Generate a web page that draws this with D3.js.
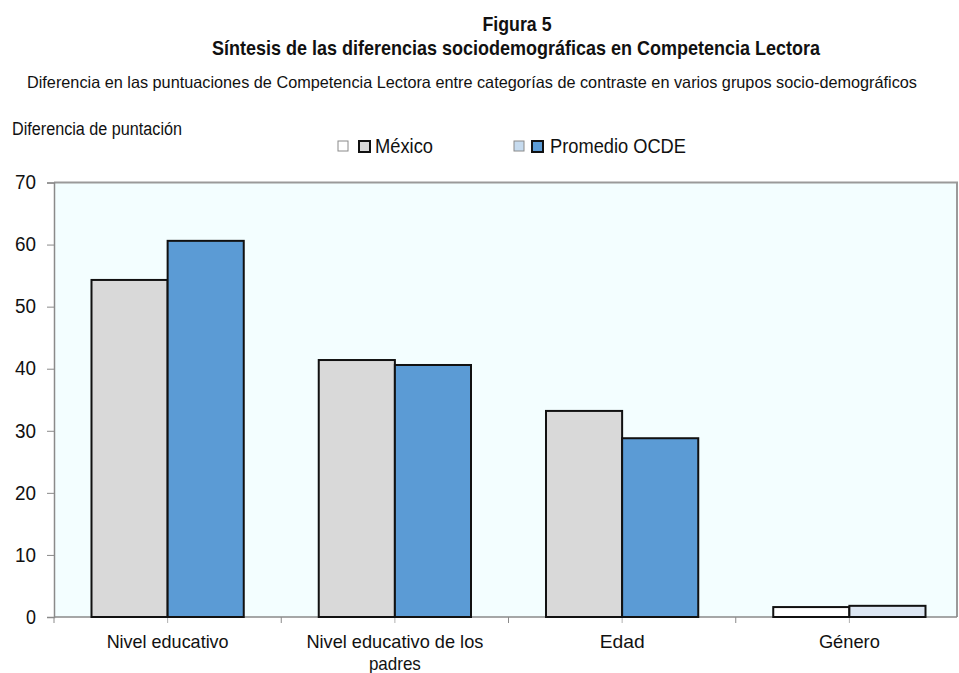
<!DOCTYPE html>
<html>
<head>
<meta charset="utf-8">
<script src="https://cdn.jsdelivr.net/npm/d3@7"></script>
<style>
  html, body { margin: 0; padding: 0; background: #ffffff; }
  svg { display: block; }
  text { font-family: "Liberation Sans Narrow", "Arial Narrow", "Liberation Sans", Arial, sans-serif; fill: #111; }
</style>
</head>
<body>
<svg id="chart" width="959" height="673"></svg>
<script>
// Score differences between contrast categories, by socio-demographic group
const categories = ["Nivel educativo", "Nivel educativo de los padres", "Edad", "Género"];
const categoryLines = [["Nivel educativo"], ["Nivel educativo de los", "padres"], ["Edad"], ["Género"]];
const seriesNames = ["México", "Promedio OCDE"];
const mexico = [54.3, 41.4, 33.2, 1.6];
const ocde = [60.6, 40.6, 28.8, 1.8];
const yTicks = [0, 10, 20, 30, 40, 50, 60, 70];

const svg = d3.select("#chart");
const plot = { left: 54, top: 182.5, right: 957, bottom: 617 };

const x = d3.scaleBand()
  .domain(categories)
  .range([plot.left, plot.left + 909])
  .paddingInner(0.33)
  .paddingOuter(0.165);
const xs = d3.scaleBand().domain(seriesNames).range([0, x.bandwidth()]);
const y = d3.scaleLinear().domain([0, 70]).range([plot.bottom, plot.top]);

// Titles
svg.append("text").attr("x", 517).attr("y", 31).attr("text-anchor", "middle")
  .attr("font-size", 21).attr("font-weight", "bold")
  .attr("textLength", 69).attr("lengthAdjust", "spacingAndGlyphs")
  .text("Figura 5");
svg.append("text").attr("x", 516).attr("y", 55).attr("text-anchor", "middle")
  .attr("font-size", 21).attr("font-weight", "bold")
  .attr("textLength", 608).attr("lengthAdjust", "spacingAndGlyphs")
  .text("Síntesis de las diferencias sociodemográficas en Competencia Lectora");
svg.append("text").attr("x", 27).attr("y", 88)
  .attr("font-size", 16.5)
  .attr("textLength", 890).attr("lengthAdjust", "spacingAndGlyphs")
  .text("Diferencia en las puntuaciones de Competencia Lectora entre categorías de contraste en varios grupos socio-demográficos");
svg.append("text").attr("x", 12).attr("y", 135)
  .attr("font-size", 18)
  .attr("textLength", 170).attr("lengthAdjust", "spacingAndGlyphs")
  .text("Diferencia de puntación");

// Legend
const legend = [
  { hollow: "#ffffff", hollowStroke: "#8a8a8a", fill: "#d9d9d9", x0: 338, x1: 358, tx: 375, tw: 58, label: seriesNames[0] },
  { hollow: "#c6dbef", hollowStroke: "#8a8a8a", fill: "#5b9bd5", x0: 514, x1: 531, tx: 550, tw: 136, label: seriesNames[1] }
];
legend.forEach(l => {
  svg.append("rect").attr("x", l.x0).attr("y", 141).attr("width", 10).attr("height", 10)
    .attr("fill", l.hollow).attr("stroke", l.hollowStroke).attr("stroke-width", 1);
  svg.append("rect").attr("x", l.x1 + 1).attr("y", 141).attr("width", 11).attr("height", 11)
    .attr("fill", l.fill).attr("stroke", "#111").attr("stroke-width", 2);
  svg.append("text").attr("x", l.tx).attr("y", 153).attr("font-size", 19.5)
    .attr("textLength", l.tw).attr("lengthAdjust", "spacingAndGlyphs").text(l.label);
});

// Plot area
svg.append("rect").attr("x", plot.left).attr("y", plot.top)
  .attr("width", plot.right - plot.left).attr("height", plot.bottom - plot.top)
  .attr("fill", "#f3feff");
svg.append("path")
  .attr("d", `M${plot.left},${plot.top}H${plot.right}V${plot.bottom}`)
  .attr("fill", "none").attr("stroke", "#9a9a9a").attr("stroke-width", 2);

// Y axis
const yAxis = d3.axisLeft(y).tickValues(yTicks).tickSize(7).tickPadding(11);
const gy = svg.append("g").attr("transform", `translate(${plot.left},0)`).call(yAxis);
gy.select(".domain").attr("stroke", "#8a8a8a").attr("stroke-width", 1.5);
gy.selectAll(".tick line").attr("stroke", "#8a8a8a");
gy.selectAll(".tick text").attr("font-size", 19.5).attr("fill", "#111")
  .style("font-family", '"Liberation Sans Narrow", "Liberation Sans", Arial, sans-serif')
  .attr("textLength", 21).attr("lengthAdjust", "spacingAndGlyphs");
gy.selectAll(".tick").filter(d => d === 0).select("text").attr("textLength", 10);

// X axis line with ticks at band boundaries
svg.append("line").attr("x1", plot.left).attr("x2", plot.right)
  .attr("y1", plot.bottom).attr("y2", plot.bottom)
  .attr("stroke", "#8a8a8a").attr("stroke-width", 1.5);
const boundaries = categories.map(c => x(c) - x.step() * x.paddingInner() / 2);
svg.selectAll(".xtick").data(boundaries).join("line")
  .attr("x1", d => d).attr("x2", d => d)
  .attr("y1", plot.bottom).attr("y2", plot.bottom + 6)
  .attr("stroke", "#8a8a8a");
// centre ticks below each group
svg.selectAll(".ctick").data(categories).join("line")
  .attr("x1", c => x(c) + x.bandwidth() / 2).attr("x2", c => x(c) + x.bandwidth() / 2)
  .attr("y1", plot.bottom).attr("y2", plot.bottom + 6)
  .attr("stroke", "#b0b0b0");

// Category labels
const labelWidths = [[122], [177, 52], [45], [61]];
categories.forEach((c, i) => {
  categoryLines[i].forEach((line, j) => {
    svg.append("text")
      .attr("x", x(c) + x.bandwidth() / 2)
      .attr("y", 648 + j * 22)
      .attr("text-anchor", "middle").attr("font-size", 18.5)
      .attr("textLength", labelWidths[i][j]).attr("lengthAdjust", "spacingAndGlyphs")
      .text(line);
  });
});

// Bars
const bars = [];
categories.forEach((c, i) => {
  bars.push({ cat: c, s: seriesNames[0], v: mexico[i], fill: c === "Género" ? "#ffffff" : "#d9d9d9" });
  bars.push({ cat: c, s: seriesNames[1], v: ocde[i], fill: c === "Género" ? "#dce6f2" : "#5b9bd5" });
});
svg.append("g").selectAll("rect").data(bars).join("rect")
  .attr("x", d => x(d.cat) + xs(d.s))
  .attr("y", d => y(d.v))
  .attr("width", xs.bandwidth())
  .attr("height", d => y(0) - y(d.v))
  .attr("fill", d => d.fill)
  .attr("stroke", "#111")
  .attr("stroke-width", 2);
</script>
</body>
</html>
